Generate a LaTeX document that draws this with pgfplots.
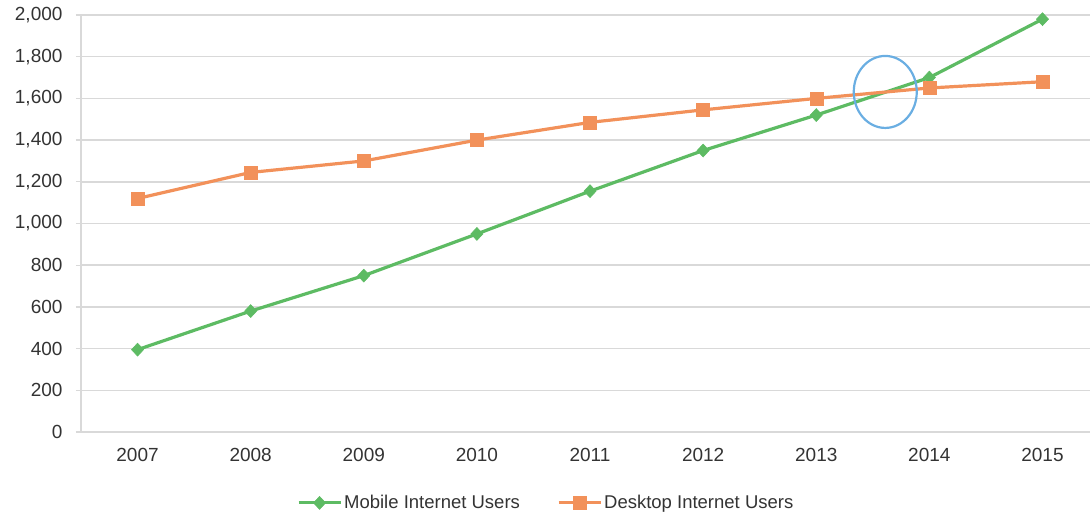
\documentclass[border=0pt]{standalone}
\usepackage{pgfplots}
\pgfplotsset{compat=1.18}
\usepackage{fontspec}
\setmainfont{Liberation Sans}
\definecolor{mgreen}{HTML}{5DBB63}
\definecolor{dorange}{HTML}{F2915A}
\definecolor{cblue}{HTML}{6AAEE2}
\definecolor{gridgray}{HTML}{D9D9D9}
\definecolor{txt}{HTML}{333333}
\begin{document}
\begin{tikzpicture}
\begin{axis}[
  scale only axis, width=1009bp, height=417bp,
  xmin=-0.5, xmax=8.42, ymin=0, ymax=2000,
  ytick={0,200,...,2000},
  xtick={0,1,2,3,4,5,6,7,8},
  xticklabels={2007,2008,2009,2010,2011,2012,2013,2014,2015},
  extra x ticks={-0.5,0.5,1.5,2.5,3.5,4.5,5.5,6.5,7.5},
  extra x tick labels={},
  extra x tick style={major tick length=5bp, tick style={gridgray, line width=1.2bp}},
  x tick style={draw=none},
  y tick style={gridgray, line width=1.2bp},
  major tick length=5bp,
  tick align=outside,
  xtick pos=bottom, ytick pos=left,
  ymajorgrids, grid style={gridgray, line width=1.5bp},
  axis x line*=bottom, axis y line*=left,
  axis line style={gridgray, line width=1.5bp, -},
  font=\fontsize{19bp}{22bp}\selectfont,
  tick label style={txt, font=\fontsize{19bp}{22bp}\selectfont},
  /pgf/number format/assume math mode=true,
  /pgf/number format/1000 sep={,},
  scaled y ticks=false,
  y tick label style={xshift=-10bp},
  x tick label style={yshift=-8bp},
  legend style={at={(0.461,-0.17)}, anchor=center, draw=none, fill=none,
    legend columns=2, font=\fontsize{18.5bp}{22bp}\selectfont, text=txt,
    /tikz/every even column/.append style={column sep=35bp},
    inner sep=0pt},
  legend cell align=left,
  legend image code/.code={\draw[mark repeat=2,mark phase=2,#1] plot coordinates {(0bp,0bp)(21bp,0bp)(42bp,0bp)};},
]
\addplot[mgreen, line width=3.2bp, mark=diamond*, mark size=6.5bp, mark options={solid, xscale=1.25, fill=mgreen, draw=mgreen, line width=0.5bp}]
  coordinates {(0,395)(1,580)(2,750)(3,950)(4,1155)(5,1350)(6,1520)(7,1700)(8,1980)};
\addlegendentry{Mobile Internet Users}
\addplot[dorange, line width=3.2bp, mark=square*, mark size=6.5bp, mark options={solid, fill=dorange, draw=dorange, line width=0.5bp}]
  coordinates {(0,1120)(1,1245)(2,1300)(3,1400)(4,1485)(5,1545)(6,1600)(7,1650)(8,1680)};
\addlegendentry{Desktop Internet Users}
\draw[cblue, line width=2.2bp] (axis cs:6.61,1631) ellipse [x radius=31.5bp, y radius=36bp];
\coordinate (ll) at (rel axis cs:0,0);
\coordinate (ur) at (rel axis cs:1,1);
\end{axis}
\pgfresetboundingbox
\path ([shift={(-81bp,-82bp)}]ll) rectangle ([shift={(0bp,15bp)}]ur);
\end{tikzpicture}
\end{document}
